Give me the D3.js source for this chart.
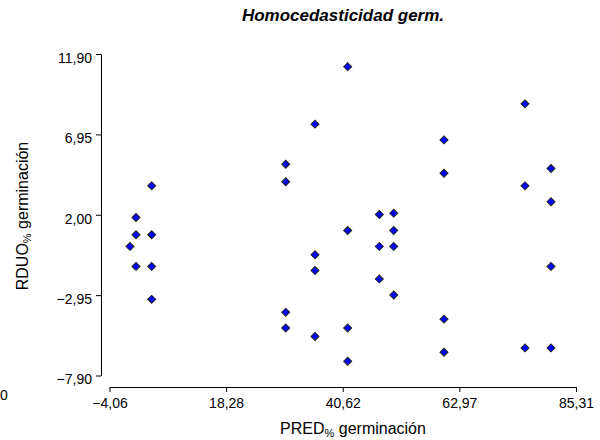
<!DOCTYPE html>
<html>
<head>
<meta charset="utf-8">
<script src="https://cdn.jsdelivr.net/npm/d3@7"></script>
<style>
  body { margin: 0; background: #fff; }
  #chart { width: 600px; height: 440px; }
  text { font-family: "Liberation Sans", Arial, sans-serif; fill: #000; }
</style>
</head>
<body>
<div id="chart"></div>
<script>
// predichos y residuos
const predX = [4.02, 1.02, 1.02, 4.02, -0.13, 1.02, 4.02, 4.02,
               29.70, 29.70, 29.70, 29.70,
               35.31, 35.31, 35.31, 35.31,
               41.57, 41.57, 41.57, 41.57,
               47.63, 47.63, 47.63,
               50.39, 50.39, 50.39, 50.39,
               60.02, 60.02, 60.02, 60.02,
               75.54, 75.54, 75.54,
               80.52, 80.52, 80.52, 80.52];
const rduoY = [3.78, 1.83, 0.77, 0.77, 0.05, -1.18, -1.18, -3.21,
               5.11, 4.03, -4.01, -4.97,
               7.58, -0.46, -1.43, -5.50,
               11.12, 1.03, -4.97, -7.02,
               2.02, 0.05, -1.95,
               2.10, 1.03, 0.05, -2.94,
               6.61, 4.56, -4.43, -6.47,
               8.83, 3.78, -6.20,
               4.85, 2.80, -1.18, -6.20];
const xTicks = [-4.06, 18.28, 40.62, 62.97, 85.31];
const yTicks = [-7.90, -2.95, 2.00, 6.95, 11.90];

const width = 600, height = 440;
const svg = d3.select('#chart').append('svg')
              .attr('width', width)
              .attr('height', height);

const loc = d3.formatLocale({decimal: ',', thousands: '.', grouping: [3], currency: ['', '']});
const fmt = loc.format('.2f');

let xScale = d3.scaleLinear().domain([-4.06, 85.31]).range([109.5, 576]);
let yScale = d3.scaleLinear().domain([-7.9, 11.9]).range([375.5, 54]);

// eje x (separado del eje y)
svg.append('g')
   .attr('transform', 'translate(0, 387)')
   .call(d3.axisBottom(xScale).tickValues(xTicks).tickFormat(fmt).tickSize(5).tickSizeOuter(0).tickPadding(6))
   .call(g => g.selectAll('text').attr('font-size', 14).attr('font-family', null))
   .call(g => g.selectAll('line, path').attr('stroke', '#000'));

// eje y
svg.append('g')
   .attr('transform', 'translate(101, 0)')
   .call(d3.axisLeft(yScale).tickValues(yTicks).tickFormat(fmt).tickSize(5).tickSizeOuter(0).tickPadding(4))
   .call(g => g.selectAll('text').attr('font-size', 14).attr('font-family', null).attr('dy', '0.6em'))
   .call(g => g.selectAll('line, path').attr('stroke', '#000'));

// puntos
const diamond = d3.symbol().type(d3.symbolSquare).size(32);
svg.append('g')
   .selectAll('path')
   .data(predX.map((x, i) => [x, rduoY[i]]))
   .join('path')
     .attr('d', diamond)
     .attr('transform', d => `translate(${xScale(d[0])}, ${yScale(d[1])}) rotate(45)`)
     .attr('fill', '#0000ff')
     .attr('stroke', '#222')
     .attr('stroke-width', 1);

// titulo
svg.append('text')
   .attr('x', 343).attr('y', 21)
   .attr('text-anchor', 'middle')
   .attr('font-size', 17)
   .attr('font-weight', 'bold')
   .attr('font-style', 'italic')
   .text('Homocedasticidad germ.');

// etiqueta eje x
let xl = svg.append('text')
            .attr('x', 353).attr('y', 434)
            .attr('text-anchor', 'middle')
            .attr('font-size', 16);
xl.append('tspan').text('PRED');
xl.append('tspan').attr('font-size', 11).attr('dy', 3).text('%');
xl.append('tspan').attr('dy', -3).text(' germinación');

// etiqueta eje y
let yl = svg.append('text')
            .attr('transform', 'translate(28, 216) rotate(-90)')
            .attr('text-anchor', 'middle')
            .attr('font-size', 16);
yl.append('tspan').text('RDUO');
yl.append('tspan').attr('font-size', 11).attr('dy', 3).text('%');
yl.append('tspan').attr('dy', -3).text(' germinación');

// "0" suelto abajo a la izquierda
svg.append('text')
   .attr('x', 0).attr('y', 400)
   .attr('font-size', 14)
   .text('0');
</script>
</body>
</html>
